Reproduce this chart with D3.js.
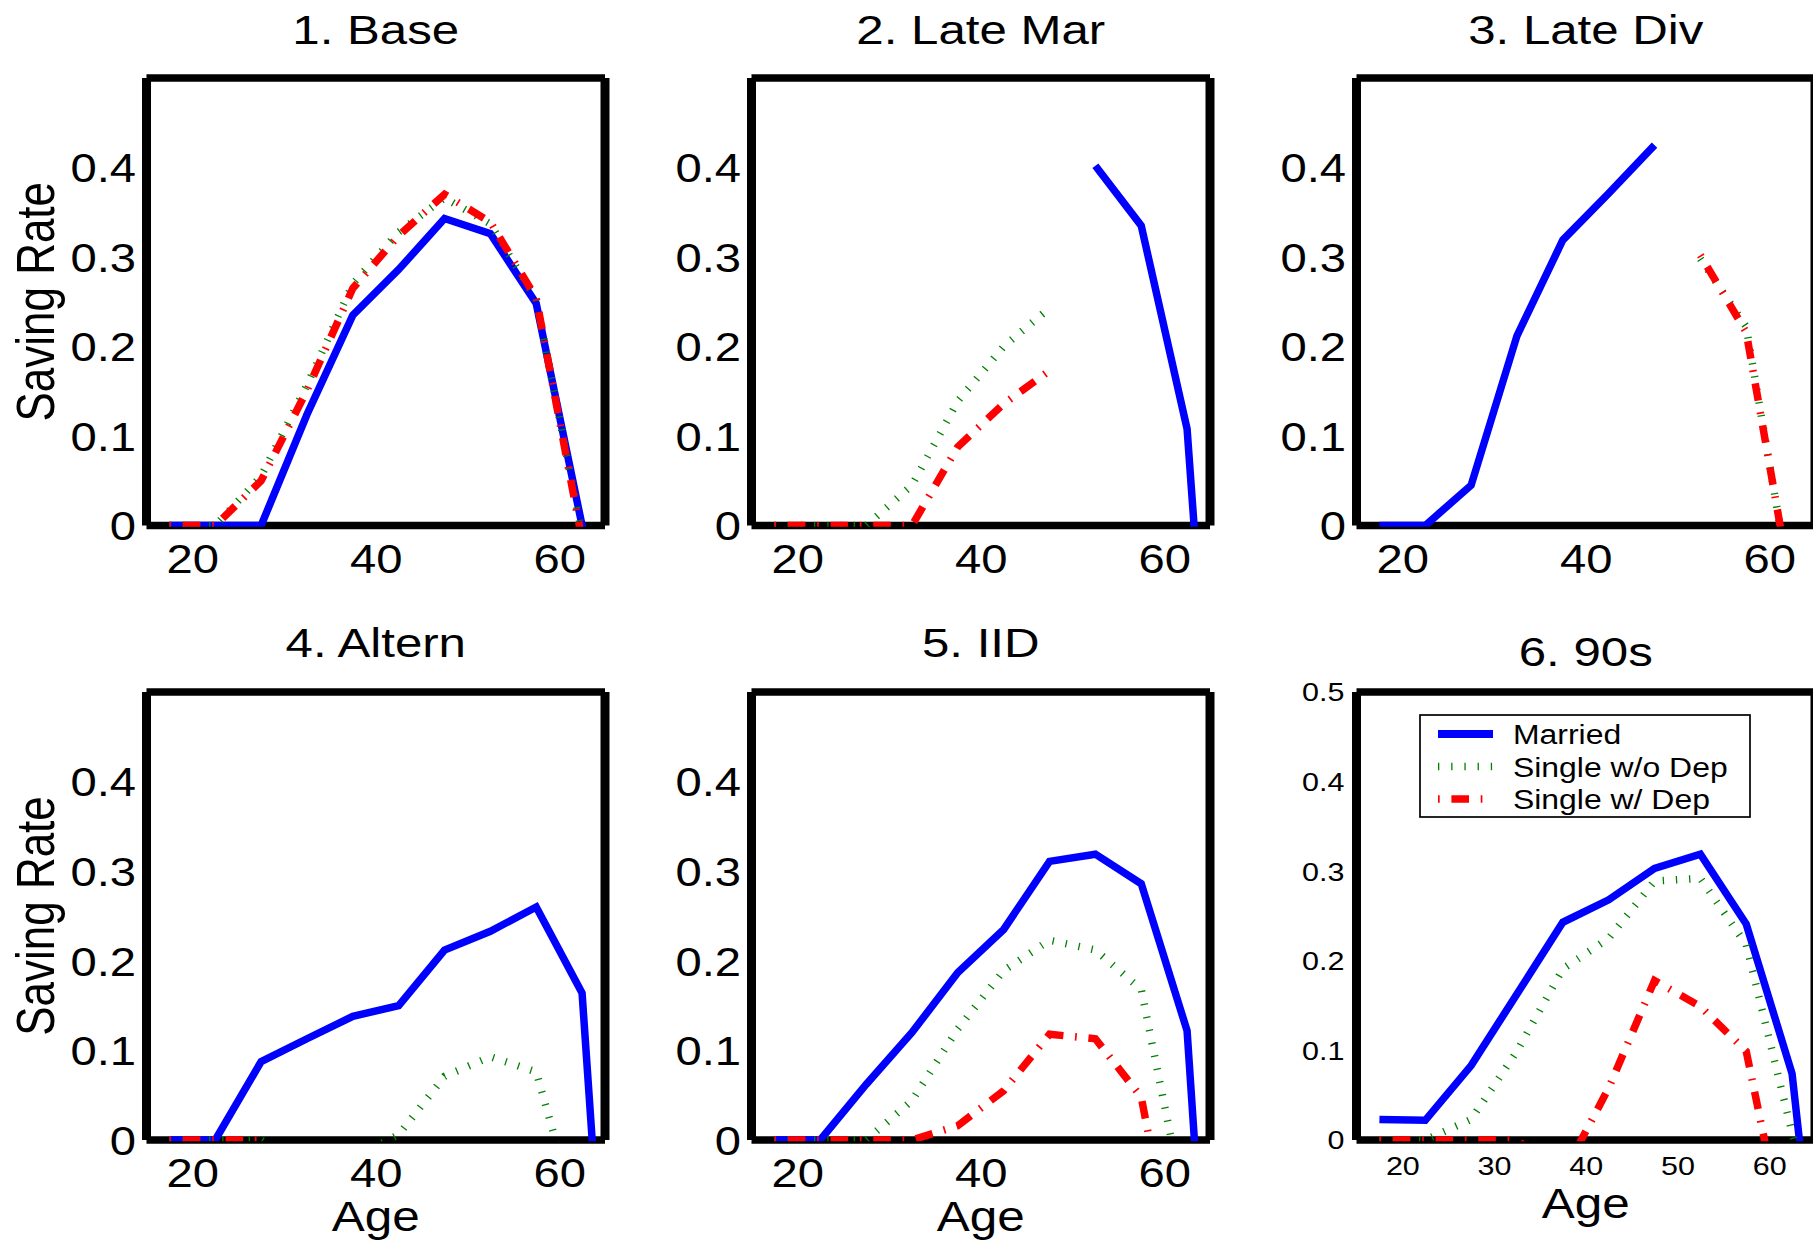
<!DOCTYPE html>
<html>
<head>
<meta charset="utf-8">
<script src="https://cdn.jsdelivr.net/npm/d3@7"></script>
<style>
  body { margin: 0; background: #fff; }
  text { font-family: "Liberation Sans", Arial, Helvetica, sans-serif; fill: #000; }
</style>
</head>
<body>
<svg id="chart" width="1813" height="1244"></svg>
<script>
// Saving rate by age, six model variants (values below 0 are clipped by the axes)
const titles = ["1. Base", "2. Late Mar", "3. Late Div", "4. Altern", "5. IID", "6. 90s"];
const seriesNames = ["Married", "Single w/o Dep", "Single w/ Dep"];
const ages = [17.5, 22.5, 27.5, 32.5, 37.5, 42.5, 47.5, 52.5, 57.5, 62.5, 67.5];

const yTicks = [0, 0.1, 0.2, 0.3, 0.4];
const yTicks90s = [0, 0.1, 0.2, 0.3, 0.4, 0.5];
const xTicks = [20, 40, 60];
const xTicks90s = [20, 30, 40, 50, 60];

const baseMarried     = [0, 0, 0, 0.124, 0.235, 0.286, 0.343, 0.326, 0.248, 0, -0.3];
const baseSingle      = [0, 0, 0.055, 0.157, 0.270, 0.328, 0.366, 0.337, 0.252, -0.01, null];
const baseSingleDep   = [0, 0, 0.050, 0.151, 0.265, 0.324, 0.370, 0.339, 0.254, -0.016, null];

const lateMarMarried   = [null, null, null, null, null, null, null, 0.402, 0.335, 0.108, -0.6];
const lateMarSingle    = [0, 0, 0, 0.045, 0.139, 0.200, 0.243, null, null, null, null];
const lateMarSingleDep = [0, 0, 0, 0, 0.088, 0.136, 0.173, null, null, null, null];

const lateDivMarried   = [0, 0, 0.045, 0.212, 0.319, 0.371, 0.425, null, null, null, null];
const lateDivSingle    = [null, null, null, null, null, null, null, 0.298, 0.222, -0.08, null];
const lateDivSingleDep = [null, null, null, null, null, null, null, 0.302, 0.216, -0.076, null];

const alternMarried   = [0, 0, 0.0875, 0.113, 0.138, 0.150, 0.212, 0.233, 0.260, 0.164, -0.58];
const alternSingle    = [0, 0, 0, -0.03, -0.02, 0.006, 0.071, 0.093, 0.076, -0.105, null];
const alternSingleDep = [0, 0, 0, -0.05, null, null, null, null, null, null, null];

const iidMarried   = [0, 0, 0.062, 0.120, 0.187, 0.235, 0.311, 0.319, 0.286, 0.122, -0.64];
const iidSingle    = [0, 0, 0, 0.044, 0.124, 0.189, 0.223, 0.212, 0.168, -0.087, null];
const iidSingleDep = [0, 0, 0, 0, 0.016, 0.055, 0.118, 0.113, 0.048, -0.219, null];

const s90Married   = [0.023, 0.022, 0.083, 0.163, 0.243, 0.268, 0.303, 0.319, 0.241, 0.074, -0.389];
const s90Single    = [0, 0, 0.023, 0.099, 0.191, 0.225, 0.289, 0.292, 0.218, 0.008, -0.2];
const s90SingleDep = [0, 0, 0, 0, -0.039, 0.058, 0.178, 0.149, 0.099, -0.149, null];

const panelSeries = [
    [baseMarried, baseSingle, baseSingleDep],
    [lateMarMarried, lateMarSingle, lateMarSingleDep],
    [lateDivMarried, lateDivSingle, lateDivSingleDep],
    [alternMarried, alternSingle, alternSingleDep],
    [iidMarried, iidSingle, iidSingleDep],
    [s90Married, s90Single, s90SingleDep]
];

const lineStyles = [
    { color: "#0000ff", dash: null },
    { color: "#008000", dash: "1.3,11.9" },
    { color: "#ff0000", dash: "1.7,11.7,17.6,11.7" }
];

const svg = d3.select("#chart");

const colLeft = [146.5, 751.5, 1356.5];
const rowTop = [78, 692];
const rowBottom = [525.5, 1140];
const plotW = 458.5;
const lineW = 7.5;

// text stretched horizontally like the original export
function label(parent, x, y, str, size, sx, anchor, rotated) {
    const g = parent.append("g")
        .attr("transform", "translate(" + x + "," + y + ") scale(" + sx + ",1)" + (rotated ? " rotate(-90)" : ""));
    g.append("text")
        .attr("text-anchor", anchor)
        .attr("font-size", size)
        .text(str);
    return g;
}

panelSeries.forEach(function (series, i) {
    const col = i % 3, row = Math.floor(i / 3);
    const is90s = i === 5;
    const left = colLeft[col], right = left + plotW;
    const top = rowTop[row], bottom = rowBottom[row];

    const x = d3.scaleLinear().domain([15, 65]).range([left, right]);
    const y = d3.scaleLinear().domain([0, 0.5]).range([bottom, top]);

    const g = svg.append("g").attr("class", "panel-" + (i + 1));

    // box
    g.append("line").attr("x1", left).attr("x2", left).attr("y1", top).attr("y2", bottom)
        .attr("stroke", "#000").attr("stroke-width", 9);
    g.append("line").attr("x1", right).attr("x2", right).attr("y1", top).attr("y2", bottom)
        .attr("stroke", "#000").attr("stroke-width", 9);
    g.append("line").attr("x1", left).attr("x2", right).attr("y1", top).attr("y2", top)
        .attr("stroke", "#000").attr("stroke-width", 7.5);
    g.append("line").attr("x1", left).attr("x2", right).attr("y1", bottom).attr("y2", bottom)
        .attr("stroke", "#000").attr("stroke-width", 7.5);

    // axes (labels only)
    const tickSize = is90s ? 25 : 40;
    const tickSx = is90s ? 1.22 : 1.18;
    const yAxis = d3.axisLeft(y)
        .tickValues(is90s ? yTicks90s : yTicks)
        .tickSize(0)
        .tickFormat(function (d) { return String(d); });
    g.append("g")
        .attr("transform", "translate(" + left + ",0)")
        .call(yAxis)
        .attr("font-size", tickSize)
        .attr("font-family", null)
        .call(function (a) { a.select(".domain").remove(); })
        .call(function (a) {
            a.selectAll("text")
                .attr("x", -(is90s ? 12 : 10.5) / tickSx)
                .attr("dy", "0.358em")
                .attr("fill", "#000")
                .attr("transform", "scale(" + tickSx + ",1)");
        });

    const xAxis = d3.axisBottom(x)
        .tickValues(is90s ? xTicks90s : xTicks)
        .tickSize(0)
        .tickFormat(function (d) { return String(d); });
    g.append("g")
        .attr("transform", "translate(0," + bottom + ")")
        .call(xAxis)
        .attr("font-size", tickSize)
        .attr("font-family", null)
        .call(function (a) { a.select(".domain").remove(); })
        .call(function (a) {
            a.selectAll("text")
                .attr("y", is90s ? 35 : 47.5)
                .attr("dy", 0)
                .attr("fill", "#000")
                .attr("transform", "scale(" + tickSx + ",1)");
        });

    // title
    label(g, (left + right) / 2, is90s ? 666 : (row === 0 ? 44 : 657), titles[i], 41, 1.2, "middle", false);

    if (col === 0) {
        label(g, 53.5, (top + bottom) / 2, "Saving Rate", 44, 1.2, "middle", true);
    }
    if (row === 1) {
        label(g, (left + right) / 2, is90s ? 1218 : 1231, "Age", 43, 1.15, "middle", false);
    }

    // data lines, clipped to the axes box
    const clipId = "clip-" + (i + 1);
    svg.append("clipPath").attr("id", clipId)
        .append("rect")
        .attr("x", left).attr("y", top)
        .attr("width", plotW).attr("height", bottom - top + 1.2);

    const line = d3.line()
        .defined(function (d) { return d[1] != null; })
        .x(function (d) { return x(d[0]); })
        .y(function (d) { return y(d[1]); });

    const lines = g.append("g").attr("clip-path", "url(#" + clipId + ")");
    series.forEach(function (vals, k) {
        const pts = ages.map(function (a, j) { return [a, vals[j]]; });
        lines.append("path")
            .attr("d", line(pts))
            .attr("fill", "none")
            .attr("stroke", lineStyles[k].color)
            .attr("stroke-width", lineW)
            .attr("stroke-linejoin", "miter")
            .attr("stroke-miterlimit", 2)
            .attr("stroke-linecap", "butt")
            .attr("stroke-dasharray", lineStyles[k].dash);
    });

    // legend in the last panel
    if (is90s) {
        const lg = g.append("g").attr("class", "legend");
        lg.append("rect")
            .attr("x", 1420).attr("y", 715)
            .attr("width", 330).attr("height", 102)
            .attr("fill", "#fff")
            .attr("stroke", "#000")
            .attr("stroke-width", 1.7);
        seriesNames.forEach(function (name, k) {
            const base = 744 + k * 32.5;
            lg.append("line")
                .attr("x1", 1438).attr("x2", 1493)
                .attr("y1", base - 10).attr("y2", base - 10)
                .attr("stroke", lineStyles[k].color)
                .attr("stroke-width", k === 0 ? 8 : lineW)
                .attr("stroke-dasharray", lineStyles[k].dash);
            label(lg, 1513, base, name, 28, 1.14, "start", false);
        });
    }
});
</script>
</body>
</html>
